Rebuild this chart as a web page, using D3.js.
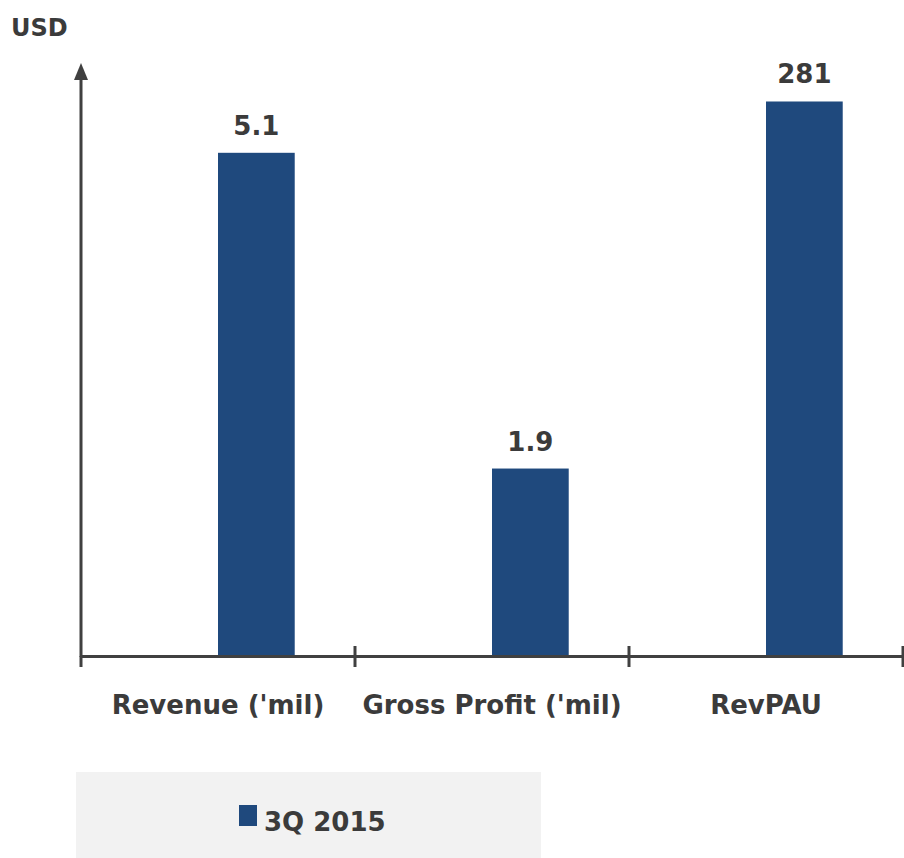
<!DOCTYPE html>
<html>
<head>
<meta charset="utf-8">
<script src="https://cdn.jsdelivr.net/npm/d3@7"></script>
<style>
  body { margin: 0; background: #fff; }
  text { font-family: "DejaVu Sans", sans-serif; font-weight: bold; fill: #3b3b3b; }
</style>
</head>
<body>
<svg id="chart"></svg>
<script>
// data
const categories = ["Revenue ('mil)", "Gross Profit ('mil)", "RevPAU"];
const values = [5.1, 1.9, 281];
const valueLabels = ["5.1", "1.9", "281"];
const axisSide = ["left", "left", "right"]; // RevPAU sits on its own scale
const seriesName = "3Q 2015";

const width = 904, height = 858;
const barColor = "#1f497d";
const inkColor = "#404040";

const svg = d3.select("#chart").attr("width", width).attr("height", height);

const x = d3.scaleBand()
    .domain(categories)
    .range([81, 903]);

// two slots per group, the first one is empty
const xSub = d3.scaleBand()
    .domain(["", seriesName])
    .range([x.bandwidth() * 0.22, x.bandwidth() * 0.78]);

const yLeft = d3.scaleLinear().domain([0, 6]).range([656, 64]);
const yRight = d3.scaleLinear().domain([0, 300]).range([656, 64]);
const yFor = i => axisSide[i] === "right" ? yRight : yLeft;

// bars
svg.append("g")
    .selectAll("rect")
    .data(values).enter()
    .append("rect")
    .attr("x", (d, i) => x(categories[i]) + xSub(seriesName))
    .attr("y", (d, i) => yFor(i)(d))
    .attr("width", xSub.bandwidth())
    .attr("height", (d, i) => yFor(i)(0) - yFor(i)(d))
    .attr("fill", barColor);

// value labels
svg.append("g")
    .selectAll("text")
    .data(values).enter()
    .append("text")
    .attr("x", (d, i) => x(categories[i]) + xSub(seriesName) + xSub.bandwidth() / 2)
    .attr("y", (d, i) => yFor(i)(d) - 18)
    .attr("text-anchor", "middle")
    .attr("font-size", "26px")
    .text((d, i) => valueLabels[i]);

// x axis with ticks between categories
const xAxis = d3.axisBottom(x).tickSize(0).tickPadding(0).tickFormat("");
const gx = svg.append("g")
    .attr("transform", "translate(0,656)")
    .call(xAxis);
gx.select(".domain").attr("stroke", inkColor).attr("stroke-width", 3);
gx.selectAll(".tick").remove();

const edges = categories.map(c => x(c)).concat([x.range()[1]]);
svg.append("g")
    .selectAll("line")
    .data(edges).enter()
    .append("line")
    .attr("x1", d => d).attr("x2", d => d)
    .attr("y1", (d, i) => i === 0 ? 656 : 646)
    .attr("y2", 667)
    .attr("stroke", inkColor)
    .attr("stroke-width", 3);

svg.append("g")
    .selectAll("text")
    .data(categories).enter()
    .append("text")
    .attr("x", d => x(d) + x.bandwidth() / 2)
    .attr("y", 714)
    .attr("text-anchor", "middle")
    .attr("font-size", "26px")
    .text(d => d);

// y axis with arrow head
svg.append("line")
    .attr("x1", 81).attr("x2", 81)
    .attr("y1", 657).attr("y2", 76)
    .attr("stroke", inkColor)
    .attr("stroke-width", 3);
svg.append("path")
    .attr("d", "M81,63 L74,80 L88,80 Z")
    .attr("fill", inkColor);

svg.append("text")
    .attr("x", 11)
    .attr("y", 36)
    .attr("font-size", "24px")
    .text("USD");

// legend
const legend = svg.append("g");
legend.append("rect")
    .attr("x", 76).attr("y", 772)
    .attr("width", 465).attr("height", 86)
    .attr("fill", "#f2f2f2");
legend.append("rect")
    .attr("x", 239).attr("y", 805)
    .attr("width", 18).attr("height", 21)
    .attr("fill", barColor);
legend.append("text")
    .attr("x", 264)
    .attr("y", 831)
    .attr("font-size", "26px")
    .text(seriesName);
</script>
</body>
</html>
